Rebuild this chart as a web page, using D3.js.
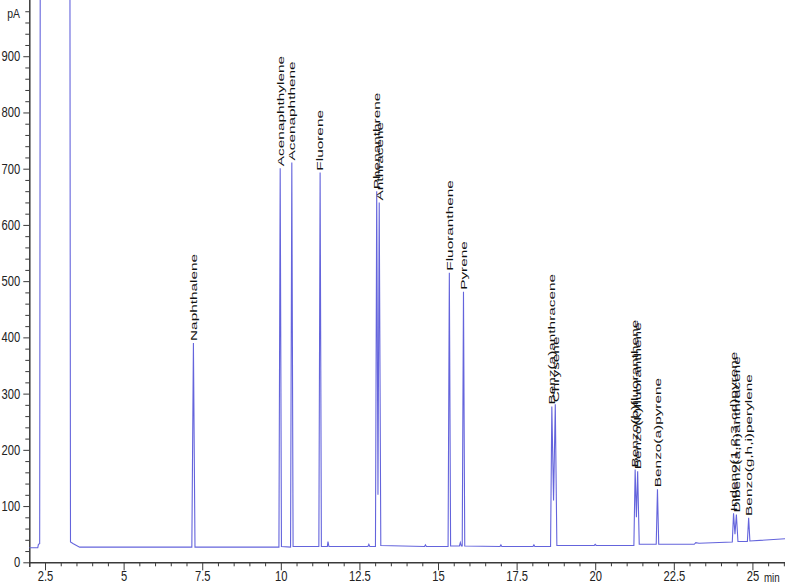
<!DOCTYPE html>
<html>
<head>
<meta charset="utf-8">
<script src="https://cdn.jsdelivr.net/npm/d3@7"></script>
<style>
  body { margin: 0; background: #fff; }
  svg { display: block; }
</style>
</head>
<body>
<svg></svg>
<script>
// peak labels
const peakNames = ["Naphthalene", "Acenaphthylene", "Acenaphthene", "Fluorene",
  "Phenanthrene", "Anthracene", "Fluoranthene", "Pyrene",
  "Benz(a)anthracene", "Chrysene", "Benzo(b)fluoranthene", "Benzo(k)fluoranthene",
  "Benzo(a)pyrene", "Indeno(1,2,3-cd)pyrene", "Dibenz(a,h)anthracene", "Benzo(g,h,i)perylene"];
const peakTimes = [7.22, 9.98, 10.35, 11.25, 13.05, 13.13, 15.36, 15.81,
  18.62, 18.73, 21.27, 21.35, 21.98, 24.40, 24.49, 24.88];
const peakHeights = [390, 701, 711, 693, 660, 640, 515, 481,
  277, 281, 165, 162, 130, 87, 85, 79];

// detector trace (min, pA)
const traceTimes = [2.0, 2.27, 2.29, 2.33, 2.35, 3.29, 3.31, 3.4, 3.6,
  7.17, 7.22, 7.27, 9.94, 9.98, 10.02, 10.31, 10.35, 10.39,
  11.21, 11.25, 11.29, 11.48, 11.5, 11.53, 12.77, 12.8, 12.83,
  13.01, 13.05, 13.09, 13.13, 13.18, 14.57, 14.6, 14.63,
  15.32, 15.36, 15.4, 15.68, 15.71, 15.74, 15.77, 15.81, 15.85,
  16.97, 17.0, 17.03, 18.02, 18.05, 18.08,
  18.58, 18.62, 18.675, 18.73, 18.78, 19.97, 20.0, 20.03,
  21.23, 21.27, 21.31, 21.35, 21.4, 21.94, 21.98, 22.02,
  23.15, 23.2, 23.3, 24.36, 24.4, 24.445, 24.49, 24.54,
  24.84, 24.88, 24.92, 26.1];
const traceSignal = [26, 26, 32, 33, 1200, 1200, 36, 33, 27,
  27, 390, 27, 27, 701, 28, 27, 711, 28,
  28, 693, 28, 28, 37, 28, 28, 32, 28,
  28, 660, 120, 640, 30, 28, 31, 28,
  28, 515, 29, 29, 35, 29, 29, 481, 29,
  28, 31, 28, 28, 31, 28,
  28, 277, 110, 281, 30, 30, 32, 30,
  30, 165, 80, 162, 32, 32, 130, 32,
  32, 35, 34, 36, 87, 50, 85, 37,
  37, 79, 38, 42];

const xLabelTicks = [2.5, 5, 7.5, 10, 12.5, 15, 17.5, 20, 22.5, 25];
const yLabelTicks = [0, 100, 200, 300, 400, 500, 600, 700, 800, 900];

const width = 785;
const height = 588;
const axisFont = "'Liberation Sans', Arial, sans-serif";

// squeeze a text horizontally so it looks like a narrow face
function narrow(sel, k) {
  sel.each(function() {
    const w = this.getComputedTextLength();
    if (w > 0) {
      d3.select(this)
        .attr("textLength", w * k)
        .attr("lengthAdjust", "spacingAndGlyphs");
    }
  });
}

const svg = d3.select("svg")
  .attr("width", width)
  .attr("height", height);

const xScale = d3.scaleLinear().domain([2, 26.1]).range([29.3, 787]);
const yScale = d3.scaleLinear().domain([0, 1000]).range([562.3, 0]);

svg.append("defs").append("clipPath")
    .attr("id", "plot-clip")
  .append("rect")
    .attr("x", 29).attr("y", 0)
    .attr("width", width - 29).attr("height", 563);

// x axis
const xAxis = d3.axisBottom(xScale)
  .tickValues(d3.range(2.5, 26.01, 0.5))
  .tickSize(4)
  .tickFormat(d => xLabelTicks.includes(d) ? String(d) : "");

const gx = svg.append("g")
    .attr("transform", `translate(0,${yScale(0)})`)
    .call(xAxis);
gx.select(".domain").attr("d", `M29,0.5H${width}`);
gx.selectAll(".tick")
  .filter(d => xLabelTicks.includes(d))
  .select("line").attr("y2", 8);
gx.selectAll(".tick text").attr("y", 9);

// y axis
const yAxis = d3.axisLeft(yScale)
  .tickValues(d3.range(0, 1000, 20))
  .tickSize(4)
  .tickPadding(3)
  .tickFormat(d => yLabelTicks.includes(d) ? String(d) : "");

const gy = svg.append("g")
    .attr("transform", "translate(29.3,0)")
    .call(yAxis);
gy.select(".domain").attr("d", "M0.5,0V567");
gy.selectAll(".tick")
  .filter(d => yLabelTicks.includes(d))
  .select("line").attr("x2", -6);
gy.selectAll(".tick text").attr("x", -9);

svg.selectAll(".domain, .tick line")
  .attr("stroke", "#3a3a3a");
svg.selectAll(".domain").attr("stroke-width", 1.5);
svg.selectAll(".tick text")
  .attr("fill", "#222")
  .style("font", `14px ${axisFont}`)
  .call(narrow, 0.8);

// units
svg.append("text")
  .attr("x", 20).attr("y", 18)
  .attr("text-anchor", "end")
  .attr("fill", "#222")
  .style("font", `13px ${axisFont}`)
  .text("pA")
  .call(narrow, 0.8);

svg.append("text")
  .attr("x", 764).attr("y", 582)
  .attr("fill", "#222")
  .style("font", `13px ${axisFont}`)
  .text("min")
  .call(narrow, 0.75);

// trace
const line = d3.line()
  .x(i => xScale(traceTimes[i]))
  .y(i => yScale(traceSignal[i]));

svg.append("path")
  .attr("clip-path", "url(#plot-clip)")
  .attr("d", line(d3.range(traceTimes.length)))
  .attr("fill", "none")
  .attr("stroke", "#6464dc")
  .attr("stroke-width", 1.1);

// peak labels
svg.selectAll(".peak-label")
  .data(peakNames)
  .enter()
  .append("text")
    .attr("class", "peak-label")
    .attr("transform", (d, i) =>
      `translate(${xScale(peakTimes[i])},${yScale(peakHeights[i]) - 2}) rotate(-90) scale(1.62,1)`)
    .attr("dy", "0.35em")
    .attr("fill", "#111")
    .style("font", "9.5px 'Liberation Sans', Arial, sans-serif")
    .text(d => d);
</script>
</body>
</html>
